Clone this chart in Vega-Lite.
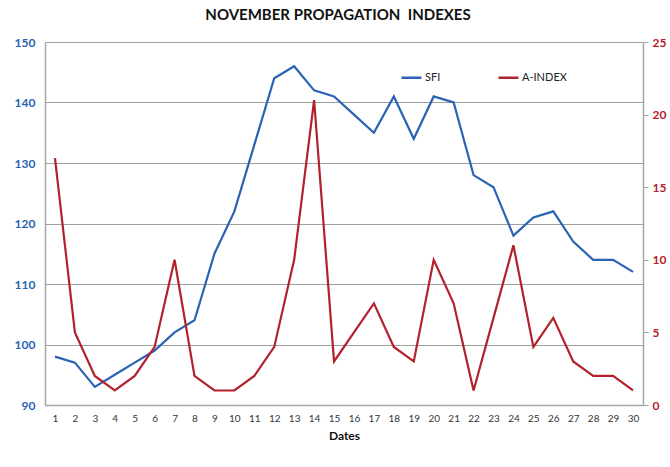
{
  "$schema": "https://vega.github.io/schema/vega-lite/v6.json",
  "width": 598,
  "height": 363,
  "autosize": "none",
  "padding": {"left": 45, "top": 42, "right": 27, "bottom": 62},
  "background": "white",
  "title": {
    "text": "NOVEMBER PROPAGATION\u00a0 INDEXES",
    "font": "Lato",
    "fontSize": 15,
    "fontWeight": "bold",
    "color": "#111111",
    "anchor": "middle",
    "offset": 13,
    "dx": -6
  },
  "config": {
    "font": "Lato",
    "view": {"stroke": null}
  },
  "data": {
    "values": [
      {"day": 1, "series": "SFI", "value": 98}, {"day": 2, "series": "SFI", "value": 97},
      {"day": 3, "series": "SFI", "value": 93}, {"day": 4, "series": "SFI", "value": 95},
      {"day": 5, "series": "SFI", "value": 97}, {"day": 6, "series": "SFI", "value": 99},
      {"day": 7, "series": "SFI", "value": 102}, {"day": 8, "series": "SFI", "value": 104},
      {"day": 9, "series": "SFI", "value": 115}, {"day": 10, "series": "SFI", "value": 122},
      {"day": 11, "series": "SFI", "value": 133}, {"day": 12, "series": "SFI", "value": 144},
      {"day": 13, "series": "SFI", "value": 146}, {"day": 14, "series": "SFI", "value": 142},
      {"day": 15, "series": "SFI", "value": 141}, {"day": 16, "series": "SFI", "value": 138},
      {"day": 17, "series": "SFI", "value": 135}, {"day": 18, "series": "SFI", "value": 141},
      {"day": 19, "series": "SFI", "value": 134}, {"day": 20, "series": "SFI", "value": 141},
      {"day": 21, "series": "SFI", "value": 140}, {"day": 22, "series": "SFI", "value": 128},
      {"day": 23, "series": "SFI", "value": 126}, {"day": 24, "series": "SFI", "value": 118},
      {"day": 25, "series": "SFI", "value": 121}, {"day": 26, "series": "SFI", "value": 122},
      {"day": 27, "series": "SFI", "value": 117}, {"day": 28, "series": "SFI", "value": 114},
      {"day": 29, "series": "SFI", "value": 114}, {"day": 30, "series": "SFI", "value": 112},
      {"day": 1, "series": "A-INDEX", "value": 17}, {"day": 2, "series": "A-INDEX", "value": 5},
      {"day": 3, "series": "A-INDEX", "value": 2}, {"day": 4, "series": "A-INDEX", "value": 1},
      {"day": 5, "series": "A-INDEX", "value": 2}, {"day": 6, "series": "A-INDEX", "value": 4},
      {"day": 7, "series": "A-INDEX", "value": 10}, {"day": 8, "series": "A-INDEX", "value": 2},
      {"day": 9, "series": "A-INDEX", "value": 1}, {"day": 10, "series": "A-INDEX", "value": 1},
      {"day": 11, "series": "A-INDEX", "value": 2}, {"day": 12, "series": "A-INDEX", "value": 4},
      {"day": 13, "series": "A-INDEX", "value": 10}, {"day": 14, "series": "A-INDEX", "value": 21},
      {"day": 15, "series": "A-INDEX", "value": 3}, {"day": 16, "series": "A-INDEX", "value": 5},
      {"day": 17, "series": "A-INDEX", "value": 7}, {"day": 18, "series": "A-INDEX", "value": 4},
      {"day": 19, "series": "A-INDEX", "value": 3}, {"day": 20, "series": "A-INDEX", "value": 10},
      {"day": 21, "series": "A-INDEX", "value": 7}, {"day": 22, "series": "A-INDEX", "value": 1},
      {"day": 23, "series": "A-INDEX", "value": 6}, {"day": 24, "series": "A-INDEX", "value": 11},
      {"day": 25, "series": "A-INDEX", "value": 4}, {"day": 26, "series": "A-INDEX", "value": 6},
      {"day": 27, "series": "A-INDEX", "value": 3}, {"day": 28, "series": "A-INDEX", "value": 2},
      {"day": 29, "series": "A-INDEX", "value": 2}, {"day": 30, "series": "A-INDEX", "value": 1}
    ]
  },
  "encoding": {
    "x": {
      "field": "day",
      "type": "ordinal",
      "scale": {"type": "point", "padding": 0.5},
      "axis": {
        "title": "Dates",
        "titleFont": "Lato",
        "titleFontSize": 12,
        "titleFontWeight": "bold",
        "titleColor": "#111111",
        "titlePadding": 7,
        "labelAngle": 0,
        "labelFontSize": 10,
        "labelColor": "#333333",
        "labelPadding": 8,
        "ticks": false,
        "domainColor": "#A6A6A6",
        "domainWidth": 1.5,
        "grid": false
      }
    },
    "color": {
      "field": "series",
      "type": "nominal",
      "scale": {"domain": ["SFI", "A-INDEX"], "range": ["#2A63B3", "#B3212C"]},
      "legend": {
        "title": null,
        "orient": "none",
        "legendX": 355,
        "legendY": 24,
        "direction": "horizontal",
        "symbolType": "stroke",
        "symbolStrokeWidth": 2.5,
        "symbolSize": 400,
        "labelFontSize": 11,
        "labelColor": "#222222",
        "columnPadding": 52,
        "labelOffset": 2
      }
    }
  },
  "layer": [
    {
      "transform": [{"filter": "datum.series === 'SFI'"}],
      "mark": {"type": "line", "strokeWidth": 2.2},
      "encoding": {
        "y": {
          "field": "value",
          "type": "quantitative",
          "scale": {"domain": [90, 150], "nice": false, "zero": false},
          "axis": {
            "title": null,
            "values": [90, 100, 110, 120, 130, 140, 150],
            "labelColor": "#2A63B3",
            "labelFontWeight": "bold",
            "labelFontSize": 12,
            "labelPadding": 10,
            "ticks": false,
            "domainColor": "#A6A6A6",
            "domainWidth": 1.5,
            "grid": true,
            "gridColor": "#A0A0A0",
            "gridWidth": 1.2
          }
        }
      }
    },
    {
      "transform": [{"filter": "datum.series === 'A-INDEX'"}],
      "mark": {"type": "line", "strokeWidth": 2.2},
      "encoding": {
        "y": {
          "field": "value",
          "type": "quantitative",
          "scale": {"domain": [0, 25], "nice": false},
          "axis": {
            "orient": "right",
            "title": null,
            "values": [0, 5, 10, 15, 20, 25],
            "labelColor": "#B3212C",
            "labelFontWeight": "bold",
            "labelFontSize": 12,
            "labelPadding": 4,
            "ticks": true,
            "tickSize": 5,
            "tickColor": "#A6A6A6",
            "domainColor": "#A6A6A6",
            "domainWidth": 1.5,
            "grid": false
          }
        }
      }
    }
  ],
  "resolve": {"scale": {"y": "independent"}}
}
